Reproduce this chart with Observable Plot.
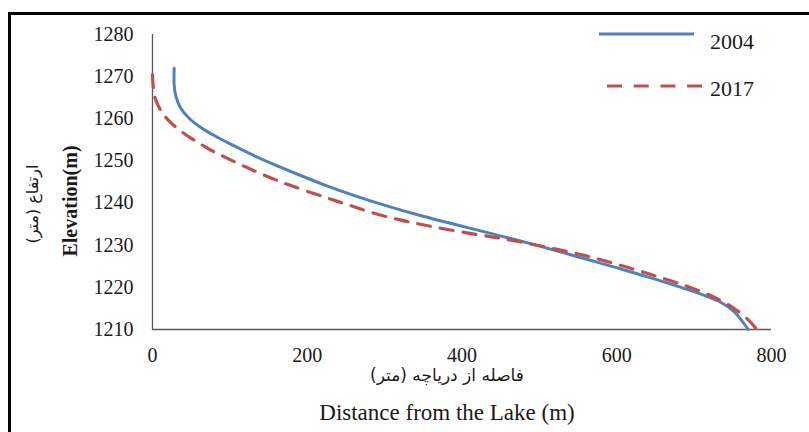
<!DOCTYPE html>
<html>
<head>
<meta charset="utf-8">
<script src="https://cdn.jsdelivr.net/npm/d3@7"></script>
<script src="https://cdn.jsdelivr.net/npm/@observablehq/plot@0.6"></script>
<style>
  html, body { margin: 0; padding: 0; background: #fff; overflow: hidden; }
  #wrap { position: relative; width: 809px; height: 432px; overflow: hidden; font-family: "Liberation Serif", "DejaVu Sans", serif; }
  #frame { position: absolute; left: 8px; top: 12px; width: 1000px; height: 600px; border-top: 3px solid #000; border-left: 3px solid #000; }
  #chart { position: absolute; left: 0; top: 0; }
  .t { position: absolute; color: #1a1a1a; white-space: nowrap; line-height: 1; }
</style>
</head>
<body>
<div id="wrap">
  <div id="frame"></div>
  <div id="chart"></div>
</div>
<script>
// ---- data ----
const years = ["2004", "2017"];
const dist2004 = [28, 28, 30, 36, 47, 62, 81, 103, 124, 150, 180, 221, 264, 307, 351, 394, 437, 467, 510, 553, 597, 640, 683, 709, 735, 752, 762, 770];
const elev2004 = [1272, 1268, 1265.5, 1262.7, 1260.2, 1258, 1255.9, 1253.8, 1251.9, 1249.7, 1247.4, 1244.4, 1241.6, 1239.1, 1236.8, 1234.8, 1232.8, 1231.4, 1229.3, 1227.1, 1224.8, 1222.5, 1220, 1218.4, 1216.4, 1214.2, 1212, 1210];
const dist2017 = [0, 1, 4, 12, 23, 38, 55, 75, 97, 120, 146, 178, 221, 251, 286, 320, 351, 385, 424, 454, 489, 523, 558, 588, 622, 657, 689, 722, 740, 754, 770, 782];
const elev2017 = [1270.5, 1267.5, 1264.6, 1261.6, 1259.2, 1256.9, 1254.8, 1252.6, 1250.6, 1248.6, 1246.5, 1244.2, 1241.5, 1239.7, 1237.6, 1236, 1234.8, 1233.6, 1232.4, 1231.5, 1230.3, 1229, 1227.6, 1226.1, 1224.3, 1222.3, 1220.4, 1218, 1216.3, 1214.7, 1212.3, 1209.8];
const xTicks = [0, 200, 400, 600, 800];
const yTicks = [1210, 1220, 1230, 1240, 1250, 1260, 1270, 1280];
const xTitleEn = "Distance from the Lake (m)";
const xTitleFa = "فاصله از دریاچه (متر)";
const yTitleEn = "Elevation(m)";
const yTitleFa = "ارتفاع (متر)";

const colors = {"2004": "#4f81bd", "2017": "#c0504d"};

const rows2004 = dist2004.map((d, i) => ({x: d, y: elev2004[i]}));
const rows2017 = dist2017.map((d, i) => ({x: d, y: elev2017[i]}));

const chart = Plot.plot({
  width: 809,
  height: 432,
  marginLeft: 152,
  marginRight: 38,
  marginTop: 34,
  marginBottom: 103,
  style: {fontFamily: "Liberation Serif, serif", fontSize: "20px", color: "#1a1a1a", background: "transparent"},
  x: {domain: [0, 800], ticks: xTicks, tickFormat: "d", tickSize: 0, tickPadding: 18, label: null},
  y: {domain: [1210, 1280], ticks: yTicks, tickFormat: "d", tickSize: 0, tickPadding: 19, label: null},
  marks: [
    Plot.ruleX([0], {y1: 1210, y2: 1280, stroke: "#595959", strokeWidth: 1.3}),
    Plot.ruleY([1210], {x1: 0, x2: 800, stroke: "#595959", strokeWidth: 1.3}),
    Plot.line(rows2004, {x: "x", y: "y", stroke: colors["2004"], strokeWidth: 3, curve: "catmull-rom"}),
    Plot.line(rows2017, {x: "x", y: "y", stroke: colors["2017"], strokeWidth: 3.2, strokeDasharray: "13,10", curve: "catmull-rom"})
  ]
});
document.getElementById("chart").appendChild(chart);

// ---- legend and axis titles ----
const wrap = document.getElementById("wrap");
function addText(txt, css) {
  const d = document.createElement("div");
  d.className = "t";
  d.textContent = txt;
  Object.assign(d.style, css);
  wrap.appendChild(d);
  return d;
}

// legend
const leg = d3.select(wrap).append("svg")
  .attr("width", 120).attr("height", 80)
  .style("position", "absolute").style("left", "595px").style("top", "20px");
leg.append("line").attr("x1", 4).attr("x2", 99).attr("y1", 14).attr("y2", 14)
  .attr("stroke", colors[years[0]]).attr("stroke-width", 3);
leg.append("line").attr("x1", 12).attr("x2", 107).attr("y1", 66).attr("y2", 66)
  .attr("stroke", colors[years[1]]).attr("stroke-width", 3.2).attr("stroke-dasharray", "15,11.7");
addText(years[0], {left: "710px", top: "31px", fontSize: "22px"});
addText(years[1], {left: "710px", top: "78px", fontSize: "22px"});

// x titles
addText(xTitleFa, {left: "447px", top: "367px", fontSize: "17px", transform: "translateX(-50%)", fontFamily: "'DejaVu Sans', sans-serif"});
addText(xTitleEn, {left: "447px", top: "401px", fontSize: "23px", transform: "translateX(-50%)"});

// y titles (rotated)
addText(yTitleEn, {left: "70px", top: "201px", fontSize: "20px", fontWeight: "bold", transform: "translate(-50%,-50%) rotate(-90deg)"});
addText(yTitleFa, {left: "33px", top: "204px", fontSize: "16px", transform: "translate(-50%,-50%) rotate(-90deg)", fontFamily: "'DejaVu Sans', sans-serif"});
</script>
</body>
</html>
